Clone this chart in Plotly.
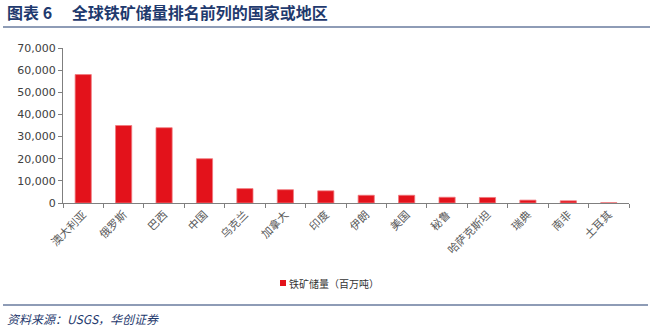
import plotly.graph_objects as go

# Iron ore reserves by country/region (million tonnes)
countries = ["澳大利亚", "俄罗斯", "巴西", "中国", "乌克兰", "加拿大", "印度",
             "伊朗", "美国", "秘鲁", "哈萨克斯坦", "瑞典", "南非", "土耳其"]
reserves = [58000, 35000, 34000, 20000, 6500, 6000, 5500,
            3500, 3500, 2600, 2500, 1300, 1000, 130]

series_name = "铁矿储量（百万吨）"
title_text = "图表 6　 全球铁矿储量排名前列的国家或地区"
source_text = "资料来源：USGS，华创证券"

navy = "#1f3a6e"
bar_red = "#e3121b"
axis_grey = "#7f7f7f"
label_grey = "#595959"

fig = go.Figure()
fig.add_trace(go.Bar(
    x=countries,
    y=reserves,
    name=series_name,
    marker=dict(color=bar_red, line=dict(color="#f07a7f", width=0.8)),
    width=0.4,
    showlegend=False,
))

# paper-coordinate helpers for pixel rows/columns of the 653x330 page
def py(row):
    return (203 - row) / 155

def px(col):
    return (col - 63) / 566

fig.update_layout(
    width=653,
    height=330,
    margin=dict(l=63, r=24, t=48, b=127),
    paper_bgcolor="white",
    plot_bgcolor="white",
    font=dict(family="Noto Sans CJK SC, DejaVu Sans, sans-serif", color=label_grey),
    xaxis=dict(
        type="category",
        showline=True,
        linecolor=axis_grey,
        linewidth=1,
        ticks="outside",
        tickson="boundaries",
        ticklen=4,
        tickcolor=axis_grey,
        tickangle=-45,
        tickfont=dict(size=11, color=label_grey,
                      family="Noto Sans CJK SC, sans-serif"),
        showgrid=False,
    ),
    yaxis=dict(
        range=[0, 70000],
        dtick=10000,
        tickformat=",",
        showline=True,
        linecolor=axis_grey,
        linewidth=1,
        ticks="outside",
        ticklen=4,
        tickcolor=axis_grey,
        tickfont=dict(size=11, color="#404040",
                      family="DejaVu Sans, Verdana, sans-serif"),
        showgrid=False,
        zeroline=False,
    ),
    shapes=[
        dict(type="line", xref="paper", yref="paper",
             x0=px(3), x1=px(650), y0=py(27), y1=py(27),
             line=dict(color=navy, width=1.2)),
        dict(type="line", xref="paper", yref="paper",
             x0=px(3), x1=px(648), y0=py(305), y1=py(305),
             line=dict(color=navy, width=1.2)),
        # legend swatch
        dict(type="rect", xref="paper", yref="paper",
             x0=px(280), x1=px(286), y0=py(286), y1=py(280),
             fillcolor=bar_red, line=dict(width=0)),
    ],
    annotations=[
        dict(text="<b>" + title_text + "</b>", xref="paper", yref="paper",
             x=px(5), y=py(12), xanchor="left", yanchor="middle",
             showarrow=False,
             font=dict(size=16, color=navy, family="Noto Sans CJK SC, sans-serif")),
        dict(text=series_name, xref="paper", yref="paper",
             x=px(287), y=py(283), xanchor="left", yanchor="middle",
             showarrow=False,
             font=dict(size=10, color="#333333", family="Noto Sans CJK SC, sans-serif")),
        dict(text="<i>" + source_text + "</i>", xref="paper", yref="paper",
             x=px(5), y=py(318), xanchor="left", yanchor="middle",
             showarrow=False,
             font=dict(size=12, color=navy, family="Noto Sans CJK SC, sans-serif")),
    ],
)

fig.write_html("out.html")
